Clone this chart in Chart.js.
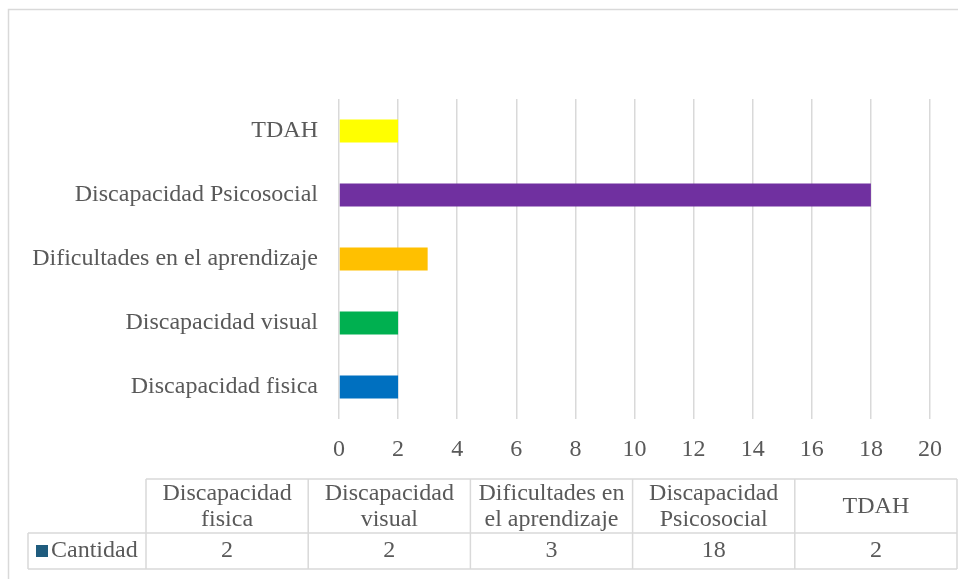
<!DOCTYPE html>
<html>
<head>
<meta charset="utf-8">
<script src="https://cdn.jsdelivr.net/npm/chart.js@4.4.1/dist/chart.umd.min.js"></script>
<style>
html,body{margin:0;padding:0;background:#fff;}
#wrap{position:relative;width:958px;height:579px;}
</style>
</head>
<body>
<div id="wrap"><canvas id="chart" width="958" height="579"></canvas></div>
<script>

// ======================================================
// DATA
// ======================================================

const categories = [
    "Discapacidad fisica",
    "Discapacidad visual",
    "Dificultades en el aprendizaje",
    "Discapacidad Psicosocial",
    "TDAH"
];

const tableHeaders = [
    ["Discapacidad","fisica"],
    ["Discapacidad","visual"],
    ["Dificultades en","el aprendizaje"],
    ["Discapacidad","Psicosocial"],
    ["TDAH"]
];

const seriesName = "Cantidad";

const cantidad = [2, 2, 3, 18, 2];

const barColors = ["#0070C0","#00B050","#FFC000","#7030A0","#FFFF00"];

const xTicks = [0,2,4,6,8,10,12,14,16,18,20];

// ======================================================
// STYLE
// ======================================================

const FONT = "'Liberation Serif', 'Times New Roman', serif";
const FONT_SIZE = 24;
const TEXT = "#595959";
const LINE = "#d9d9d9";

// ======================================================
// FRAME + DATA TABLE PLUGIN
// ======================================================

const tablePlugin = {

    id:"dataTable",

    afterDraw(chart){

        const ctx = chart.ctx;

        ctx.save();

        // outer frame
        ctx.strokeStyle = LINE;
        ctx.lineWidth = 1.5;
        ctx.beginPath();
        ctx.moveTo(8.5, 579);
        ctx.lineTo(8.5, 9.5);
        ctx.lineTo(958, 9.5);
        ctx.stroke();

        // table geometry
        const colLeft = 146;
        const colW = 162.2;
        const top = 479;
        const mid = 533;
        const bottom = 569;
        const labelLeft = 28;
        const right = colLeft + colW*categories.length;

        ctx.beginPath();
        ctx.moveTo(colLeft, top);
        ctx.lineTo(right, top);
        ctx.moveTo(labelLeft, mid);
        ctx.lineTo(right, mid);
        ctx.moveTo(labelLeft, bottom);
        ctx.lineTo(right, bottom);
        ctx.moveTo(labelLeft, mid);
        ctx.lineTo(labelLeft, bottom);
        for(let i=0;i<=categories.length;i++){
            const x = colLeft + colW*i;
            ctx.moveTo(x, top);
            ctx.lineTo(x, bottom);
        }
        ctx.stroke();

        ctx.fillStyle = TEXT;
        ctx.font = FONT_SIZE + "px " + FONT;
        ctx.textAlign = "center";
        ctx.textBaseline = "middle";

        tableHeaders.forEach((lines,i)=>{
            const cx = colLeft + colW*i + colW/2;
            if(lines.length === 1){
                ctx.fillText(lines[0], cx, 507);
            }else{
                ctx.fillText(lines[0], cx, 494);
                ctx.fillText(lines[1], cx, 520);
            }
        });

        cantidad.forEach((v,i)=>{
            const cx = colLeft + colW*i + colW/2;
            ctx.fillText(String(v), cx, 551);
        });

        // legend key + series name
        ctx.fillStyle = "#1F5C7E";
        ctx.fillRect(36, 545, 12, 12);
        ctx.fillStyle = TEXT;
        ctx.textAlign = "left";
        ctx.fillText(seriesName, 51, 551);

        ctx.restore();

    }

};

// ======================================================
// CHART
// ======================================================

new Chart(document.getElementById("chart"),{

    type:"bar",

    plugins:[tablePlugin],

    data:{

        labels:categories,

        datasets:[{

            label:seriesName,

            data:cantidad,

            backgroundColor:barColors,

            categoryPercentage:1,

            barPercentage:0.36

        }]

    },

    options:{

        responsive:false,

        animation:false,

        indexAxis:"y",

        layout:{
            padding:{ top:99, right:28, bottom:0, left:0 }
        },

        plugins:{
            legend:{ display:false },
            tooltip:{ enabled:false }
        },

        scales:{

            x:{

                min:0,

                max:20,

                afterBuildTicks:axis=>{
                    axis.ticks = xTicks.map(v=>({ value:v }));
                },

                afterFit:axis=>{
                    axis.height = 160;
                },

                border:{ display:false },

                grid:{
                    color:LINE,
                    lineWidth:1.5,
                    drawTicks:false
                },

                ticks:{
                    color:TEXT,
                    padding:16,
                    font:{ family:FONT, size:FONT_SIZE }
                }

            },

            y:{

                reverse:true,

                afterFit:axis=>{
                    axis.width = 339;
                },

                border:{ display:false },

                grid:{ display:false, drawTicks:false },

                ticks:{
                    color:TEXT,
                    padding:21,
                    font:{ family:FONT, size:FONT_SIZE }
                }

            }

        }

    }

});

</script>
</body>
</html>
